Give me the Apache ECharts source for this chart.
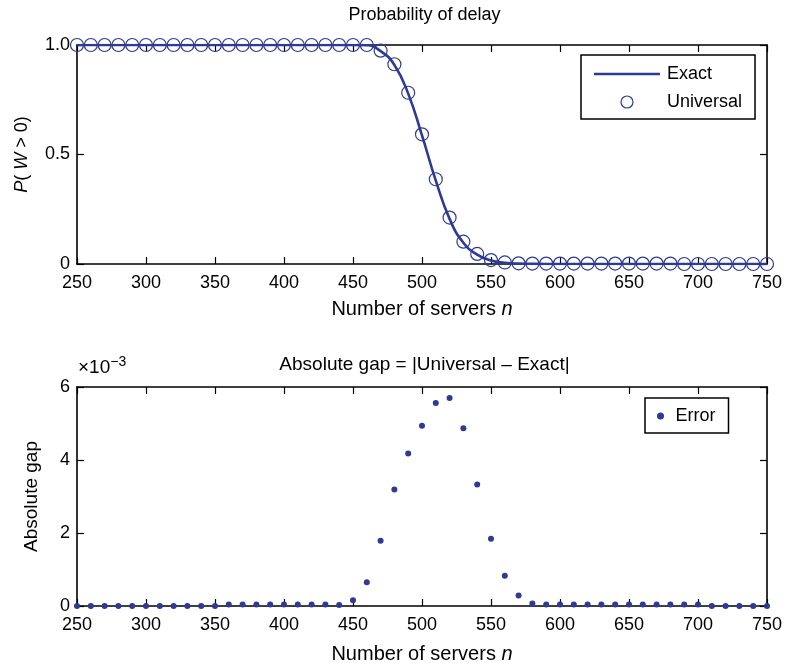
<!DOCTYPE html>
<html>
<head>
<meta charset="utf-8">
<script src="https://cdn.jsdelivr.net/npm/echarts@6/dist/echarts.min.js"></script>
<style>
html,body{margin:0;padding:0;background:#fff;}
#c{width:785px;height:670px;}
</style>
</head>
<body>
<div id="c"></div>
<script>
// Number of servers n
var servers = [250,260,270,280,290,300,310,320,330,340,350,360,370,380,390,400,410,420,430,440,
  450,460,470,480,490,500,510,520,530,540,550,560,570,580,590,600,610,620,630,640,650,660,670,680,690,700,710,720,730,740,750];
// P(W>0) exact
var exact = [1,1,1,1,1,1,1,1,1,1,1,1,1,1,1,1,1,1,1,1,
  1,0.999,0.972,0.909,0.778,0.587,0.381,0.206,0.097,0.043,0.016,0.006,0.002,0.001,0,0,0,0,0,0,0,0,0,0,0,0,0,0,0,0,0];
// P(W>0) universal approximation
var universal = [1,1,1,1,1,1,1,1,1,1,1,1,1,1,1,1,1,1,1,1,
  1,1,0.974,0.912,0.782,0.592,0.387,0.212,0.102,0.046,0.018,0.007,0.003,0.002,0.002,0.002,0.002,0.002,0.002,0.002,0.002,0.002,0.002,0.002,0,0,0,0,0,0,0];
// Absolute gap, in units of 1e-3
var gapE3 = [0,0,0,0,0,0,0,0,0,0,0,0.04,0.04,0.04,0.04,0.04,0.04,0.04,0.04,0.03,
  0.16,0.65,1.79,3.19,4.18,4.94,5.56,5.70,4.87,3.33,1.84,0.83,0.29,0.07,0.04,0.04,0.04,0.04,0.04,0.04,0.04,0.04,0.04,0.04,0.04,0.04,0,0,0,0,0];
var xTicks = {min:250, max:750, interval:50};
var topYTicks = {min:0, max:1, interval:0.5};
var botYTicks = {min:0, max:6, interval:2};

var FONT = "'Liberation Sans', Arial, sans-serif";
var BLUE = '#2e3a94';
var FS = 18;
var NFS = 20;

function pairs(xs, ys){ return xs.map(function(x,i){ return [x, ys[i]]; }); }

function frameX(grid, pos, labels, name, nameGap){
  var a = {
    type:'value', gridIndex:grid, position:pos, min:xTicks.min, max:xTicks.max, interval:xTicks.interval,
    axisLine:{show:true, onZero:false, lineStyle:{color:'#000', width:1.6}},
    axisTick:{show:true, inside:true, length:7, lineStyle:{color:'#000', width:1.2}},
    axisLabel:{show:labels, color:'#000', fontSize:FS, fontFamily:FONT, margin:10},
    splitLine:{show:false}
  };
  if (name){
    a.name = name; a.nameLocation='middle'; a.nameGap=nameGap;
    a.nameTextStyle = {color:'#000', fontSize:NFS, fontFamily:FONT,
      rich:{i:{fontStyle:'italic', fontSize:NFS, fontFamily:FONT, color:'#000'}}};
  }
  return a;
}
function frameY(grid, pos, ticks, labels, fmt, name, nameGap, nfs){
  var a = {
    type:'value', gridIndex:grid, position:pos, min:ticks.min, max:ticks.max, interval:ticks.interval,
    axisLine:{show:true, onZero:false, lineStyle:{color:'#000', width:1.6}},
    axisTick:{show:true, inside:true, length:7, lineStyle:{color:'#000', width:1.2}},
    axisLabel:{show:labels, color:'#000', fontSize:FS, fontFamily:FONT, margin:7, formatter:fmt},
    splitLine:{show:false}
  };
  if (name){
    a.name = name; a.nameLocation='middle'; a.nameGap=nameGap; a.nameRotate=90;
    a.nameTextStyle = {color:'#000', fontSize:nfs, fontFamily:FONT,
      rich:{i:{fontStyle:'italic', fontSize:nfs, fontFamily:FONT, color:'#000'}}};
  }
  return a;
}

var chart = echarts.init(document.getElementById('c'), null, {renderer:'canvas'});
chart.setOption({
  backgroundColor:'#fff',
  animation:false,
  textStyle:{fontFamily:FONT},
  grid:[
    {left:77, top:45, width:695, height:219},
    {left:77, top:387, width:695, height:219}
  ],
  xAxis:[
    frameX(0,'bottom',true,'Number of servers {i|n}',35),
    frameX(0,'top',false),
    frameX(1,'bottom',true,'Number of servers {i|n}',38),
    frameX(1,'top',false)
  ],
  yAxis:[
    frameY(0,'left',topYTicks,true,function(v){ return v===0?'0':v.toFixed(1); },'{i|P}( {i|W} > 0)',46,18),
    frameY(0,'right',topYTicks,false),
    frameY(1,'left',botYTicks,true,function(v){ return String(v); },'Absolute gap',36,19),
    frameY(1,'right',botYTicks,false)
  ],
  legend:[
    {
      left:581, top:55, orient:'vertical',
      padding:[10,13,8,13], itemGap:10, itemWidth:66, itemHeight:12,
      borderColor:'#000', borderWidth:1.5, backgroundColor:'#fff',
      textStyle:{color:'#000', fontSize:FS, fontFamily:FONT, lineHeight:18, padding:[0,0,0,2]},
      data:[
        {name:'Exact', icon:'path://M0,5 L66,5 L66,7.6 L0,7.6 Z', itemStyle:{color:BLUE, borderWidth:0}},
        {name:'Universal', icon:'circle', itemStyle:{color:'rgba(0,0,0,0)', borderColor:BLUE, borderWidth:1.2}}
      ]
    },
    {
      left:645, top:398, orient:'vertical',
      padding:[9,13,8,12], itemWidth:20, itemHeight:7,
      borderColor:'#000', borderWidth:1.5, backgroundColor:'#fff',
      textStyle:{color:'#000', fontSize:FS, fontFamily:FONT, lineHeight:18},
      data:[{name:'Error', icon:'circle'}]
    }
  ],
  graphic:[
    {type:'text', x:424.5, y:15, style:{text:'Probability of delay', fill:'#000', font:FS+'px '+FONT, textAlign:'center', textVerticalAlign:'middle'}},
    {type:'text', x:424.5, y:365, style:{text:'Absolute gap = |Universal \u2013 Exact|', fill:'#000', font:'19px '+FONT, textAlign:'center', textVerticalAlign:'middle'}},
    {type:'text', x:78, y:368, style:{text:'\u00d710{s|\u22123}', fill:'#000', font:'19px '+FONT, textVerticalAlign:'middle',
      rich:{s:{fontSize:14, fontFamily:FONT, fill:'#000', verticalAlign:'bottom', padding:[0,0,12,0]}}}}
  ],
  series:[
    {name:'Exact', type:'line', xAxisIndex:0, yAxisIndex:0, data:pairs(servers, exact),
      smooth:0.5, showSymbol:false, symbol:'none',
      lineStyle:{color:BLUE, width:2.6}, itemStyle:{color:BLUE}, z:3},
    {name:'Universal', type:'scatter', xAxisIndex:0, yAxisIndex:0, data:pairs(servers, universal),
      symbol:'circle', symbolSize:13, clip:false,
      itemStyle:{color:'rgba(0,0,0,0)', borderColor:BLUE, borderWidth:1.2, opacity:1}, z:4},
    {name:'Error', type:'scatter', xAxisIndex:2, yAxisIndex:2, data:pairs(servers, gapE3),
      symbol:'circle', symbolSize:6, clip:false,
      itemStyle:{color:BLUE, opacity:1}, z:4}
  ]
});
</script>
</body>
</html>
